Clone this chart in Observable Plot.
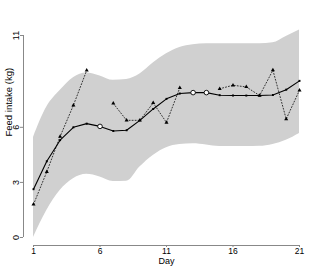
<!DOCTYPE html>
<html>
<head>
<meta charset="utf-8">
<script src="https://cdn.jsdelivr.net/npm/d3@7"></script>
<script src="https://cdn.jsdelivr.net/npm/@observablehq/plot@0.6"></script>
<style>
  html, body { margin: 0; padding: 0; background: #fff; }
  #chart { width: 333px; height: 273px; }
</style>
</head>
<body>
<div id="chart"></div>
<script>
const days = [1,2,3,4,5,6,7,8,9,10,11,12,13,14,15,16,17,18,19,20,21];
const predicted = [2.63,4.15,5.3,6.0,6.2,6.05,5.8,5.84,6.38,7.0,7.55,7.84,7.89,7.89,7.75,7.73,7.73,7.73,7.76,8.05,8.53];
const imputed = [false,false,false,false,false,true,false,false,false,false,false,false,true,true,false,false,false,false,false,false,false];
const observed = [1.8,3.58,5.5,7.2,9.1,null,7.3,6.38,6.38,7.33,6.26,8.15,null,null,8.1,8.29,8.2,7.73,9.11,6.45,8.02];
const upper = [5.45,7.1,8.0,8.7,8.96,8.8,8.56,8.6,8.9,9.5,10.0,10.35,10.5,10.55,10.55,10.55,10.55,10.55,10.6,10.95,11.3];
const lower = [0,1.47,2.56,3.2,3.44,3.3,3.05,3.06,3.84,4.47,4.89,5.07,5.1,5.04,4.96,4.96,4.96,4.97,5.07,5.3,5.67];
const xTicks = [1,6,11,16,21];
const yTicks = [0,3,6,11];
const xLabel = "Day";
const yLabel = "Feed intake (kg)";

const rows = days.map((d, i) => ({
  day: d, pred: predicted[i], obs: observed[i], up: upper[i], lo: lower[i], imp: imputed[i]
}));

const font = "'Liberation Sans Narrow', 'Liberation Sans', Arial, sans-serif";

const chart = Plot.plot({
  width: 333,
  height: 273,
  marginLeft: 33,
  marginRight: 34,
  marginTop: 35,
  marginBottom: 36,
  style: { fontFamily: font, fontSize: "9px", background: "#fff", color: "#000" },
  x: { domain: [1, 21] },
  y: { domain: [0, 11] },
  marks: [
    Plot.areaY(rows, { x: "day", y1: "lo", y2: "up", fill: "#d0d0d0", curve: "monotone-x" }),
    Plot.line(rows, { x: "day", y: "obs", stroke: "#333", strokeWidth: 1, strokeDasharray: "1,2" }),
    Plot.dot(rows.filter(r => r.obs != null), { x: "day", y: "obs", symbol: "triangle", r: 1.5, fill: "#000", stroke: "none" }),
    Plot.line(rows, { x: "day", y: "pred", stroke: "#000", strokeWidth: 1.1 }),
    Plot.dot(rows.filter(r => !r.imp), { x: "day", y: "pred", symbol: "square", r: 1.1, fill: "#000", stroke: "none" }),
    Plot.dot(rows.filter(r => r.imp), { x: "day", y: "pred", r: 2.3, fill: "#fff", stroke: "#000", strokeWidth: 0.9 }),
    Plot.ruleX([1], { y1: 0, y2: 11, dx: -10, stroke: "#888", strokeWidth: 1 }),
    Plot.ruleY([0], { x1: 1, x2: 21, dy: 8, stroke: "#888", strokeWidth: 1 }),
    Plot.axisY(yTicks, { dx: -10, tickSize: 3, tickPadding: 2, tickRotate: -90, stroke: "#888", fill: "#000", label: null, textAnchor: "middle" }),
    Plot.axisX(xTicks, { dy: 8, tickSize: 2, tickPadding: 0, fontSize: 8.5, stroke: "#888", fill: "#000", label: null }),
    Plot.text([xLabel], { frameAnchor: "bottom", dy: 20, lineAnchor: "top", fontSize: 9, fill: "#000" }),
    Plot.text([yLabel], { frameAnchor: "left", dx: -25, rotate: -90, fontSize: 9.5, fill: "#000" })
  ]
});
document.getElementById("chart").appendChild(chart);
</script>
</body>
</html>
